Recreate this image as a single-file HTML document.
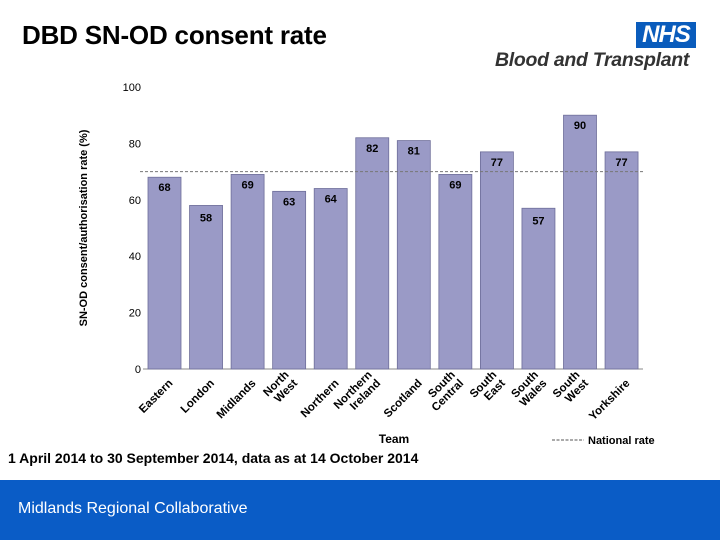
<!DOCTYPE html>
<html><head><meta charset="utf-8">
<style>
body{margin:0;width:720px;height:540px;overflow:hidden;background:#fff;font-family:"Liberation Sans",Arial,sans-serif;position:relative}
.t{position:absolute}
</style></head>
<body>
<div class="t" style="left:22px;top:20px;font-size:26px;font-weight:bold;color:#000;letter-spacing:-0.2px">DBD SN-OD consent rate</div>
<div class="t" style="left:636px;top:22px;width:60px;height:26px;background:#0a5cbc;color:#fff;font-weight:bold;font-style:italic;font-size:24px;line-height:26px;text-align:center;letter-spacing:-1px">NHS</div>
<div class="t" style="left:495px;top:49px;font-size:19.5px;font-weight:bold;font-style:italic;color:#333;letter-spacing:-0.3px">Blood and Transplant</div>
<div class="t" style="left:8px;top:450px;font-size:14px;font-weight:bold;color:#000">1 April 2014 to 30 September 2014, data as at 14 October 2014</div>
<div class="t" style="left:0;top:480px;width:720px;height:60px;background:#0a5cc6"></div>
<div class="t" style="left:18px;top:500px;font-size:16px;color:#fff">Midlands Regional Collaborative</div>
<svg id="chart" width="720" height="480" style="position:absolute;left:0;top:0" font-family="Liberation Sans, Arial, sans-serif"></svg>
<script>
const categories=[["Eastern"],["London"],["Midlands"],["North","West"],["Northern"],["Northern","Ireland"],["Scotland"],["South","Central"],["South","East"],["South","Wales"],["South","West"],["Yorkshire"]];
const values=[68,58,69,63,64,82,81,69,77,57,90,77];
const yTicks=[0,20,40,60,80,100];
const nationalRate=70;
const NS="http://www.w3.org/2000/svg";
const svg=document.getElementById('chart');
const y0=369,pxPer=2.82,x0=148,step=41.55,bw=33;
const yS=v=>y0-v*pxPer;
const xS=i=>x0+i*step;
function mk(t,a,p){const e=document.createElementNS(NS,t);for(const k in a)e.setAttribute(k,a[k]);(p||svg).appendChild(e);return e;}
const ax=mk('line',{x1:143,y1:y0,x2:643,y2:y0,stroke:'#888','stroke-width':1});


yTicks.forEach(v=>{
  const t=mk('text',{x:141,y:yS(v)+4,'text-anchor':'end','font-size':11,fill:'#000'});
  t.textContent=v;
  
  
});
const yt=mk('text',{x:0,y:0,'font-size':11,'font-weight':'bold',fill:'#000','text-anchor':'middle',transform:'translate(87,228) rotate(-90)'});
yt.textContent='SN-OD consent/authorisation rate (%)';


values.forEach((v,i)=>{
  const x=xS(i);
  const r=mk('rect',{x:x,y:yS(v),width:bw,height:y0-yS(v),fill:'#9a9ac6',stroke:'#6e6e9a','stroke-width':0.8});
  
  
  const t=mk('text',{x:x+bw/2,y:yS(v)+(v<60?16:14),'text-anchor':'middle','font-size':11,'font-weight':'bold',fill:'#000'});
  t.textContent=v;
  
  
  const cx=x+bw/2+6,cy=y0+12;
  const g=mk('text',{x:0,y:0,'font-size':11.5,'font-weight':'bold',fill:'#000','text-anchor':'end',transform:`translate(${cx},${cy}) rotate(-45)`});
  const lines=categories[i];
  lines.forEach((s,j)=>{const ts=mk('tspan',{x:0,y:(j-lines.length+1)*12+4},g);ts.textContent=s;});
  
  
});
const nl=mk('line',{x1:140,y1:yS(nationalRate),x2:643,y2:yS(nationalRate),stroke:'#777','stroke-width':1,'stroke-dasharray':'3,2'});


const xt=mk('text',{x:394,y:443,'text-anchor':'middle','font-size':12,'font-weight':'bold',fill:'#000'});
xt.textContent='Team';


const ll=mk('line',{x1:552,y1:440,x2:584,y2:440,stroke:'#555','stroke-width':1,'stroke-dasharray':'3,1.5'});


const lt=mk('text',{x:588,y:444,'font-size':11,'font-weight':'bold',fill:'#000'});
lt.textContent='National rate';


</script>
</body></html>
